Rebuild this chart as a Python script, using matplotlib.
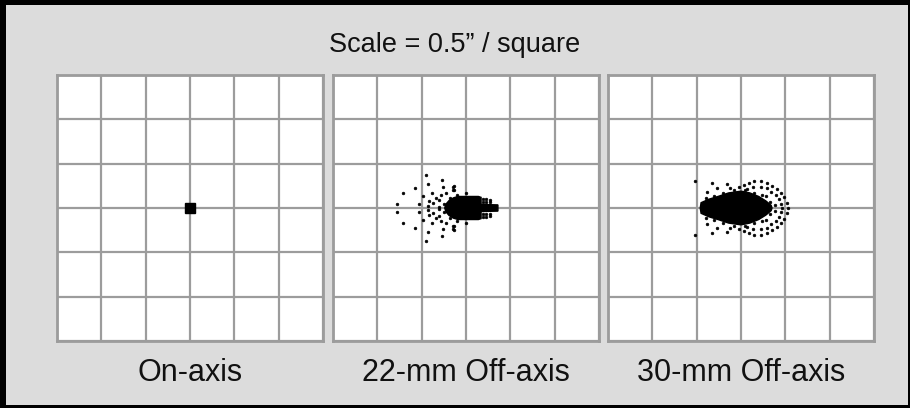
import matplotlib
matplotlib.use("Agg")
import matplotlib.pyplot as plt

plt.rcParams['font.family'] = ['Liberation Sans', 'DejaVu Sans']

# ---------------- data (arcsec offsets from panel centre) ----------------
title = "Scale = 0.5\u201d / square"
panel_labels = ["On-axis", "22-mm Off-axis", "30-mm Off-axis"]
scale_arcsec = 0.5          # one grid square
n_squares = 6

# On-axis: single tight spot
onaxis_x = [0.0]
onaxis_y = [0.0]

# 22-mm: dense core outline
core22_x = [-0.24, -0.225, -0.19, -0.14, -0.09, 0.05, 0.14, 0.17, 0.17, 0.36,
            0.36, 0.17, 0.17, 0.14, 0.05, -0.09, -0.14, -0.19, -0.225]
core22_y = [0.0, 0.045, 0.085, 0.115, 0.13, 0.13, 0.13, 0.12, 0.04, 0.035,
            -0.035, -0.04, -0.12, -0.13, -0.13, -0.13, -0.115, -0.085, -0.045]
# 22-mm: scattered rays
dots22_x = [-0.45, -0.27, -0.43, -0.26, -0.14, -0.71, -0.58, -0.48, -0.38, -0.28,
            -0.22, -0.14, 0.00, -0.78, -0.53, -0.43, -0.37, -0.31, -0.30, -0.18,
            -0.18, -0.10, -0.15, -0.15, -0.34, -0.42, -0.25,
            -0.45, -0.27, -0.43, -0.26, -0.14, -0.71, -0.58, -0.48, -0.38, -0.28,
            -0.22, -0.14, 0.00, -0.78, -0.53, -0.43, -0.37, -0.31, -0.30, -0.18,
            -0.18, -0.10, -0.15, -0.15, -0.34, -0.42, -0.25,
            0.19, 0.19, 0.23, 0.23, 0.27, 0.27,
            0.19, 0.19, 0.23, 0.23, 0.27, 0.27]
dots22_y = [0.37, 0.32, 0.27, 0.24, 0.25, 0.17, 0.22, 0.13, 0.17, 0.15,
            0.17, 0.20, 0.17, 0.05, 0.05, 0.02, 0.06, 0.09, 0.015, 0.11,
            0.07, 0.15, 0.24, 0.20, 0.11, 0.08, 0.05,
            -0.37, -0.32, -0.27, -0.24, -0.25, -0.17, -0.22, -0.13, -0.17, -0.15,
            -0.17, -0.20, -0.17, -0.05, -0.05, -0.02, -0.06, -0.09, -0.015, -0.11,
            -0.07, -0.15, -0.24, -0.20, -0.11, -0.08, -0.05,
            0.10, 0.07, 0.10, 0.07, 0.095, 0.07,
            -0.10, -0.07, -0.10, -0.07, -0.095, -0.07]

# 30-mm: dense core outline
core30_x = [-0.46, -0.45, -0.36, -0.26, -0.14, 0.00, 0.10, 0.20, 0.28, 0.34, 0.35,
            0.34, 0.28, 0.20, 0.10, 0.00, -0.14, -0.26, -0.36, -0.45]
core30_y = [0.0, 0.06, 0.10, 0.13, 0.17, 0.19, 0.17, 0.13, 0.08, 0.03, 0.0,
            -0.03, -0.08, -0.13, -0.17, -0.19, -0.17, -0.13, -0.10, -0.06]
# 30-mm: outer and inner ring of rays, rough core edge, scattered rays
dots30_x = [0.03, 0.09, 0.15, 0.22, 0.29, 0.35, 0.41, 0.45, 0.49, 0.52, 0.53,
            0.52, 0.49, 0.45, 0.41, 0.35, 0.29, 0.22, 0.15, 0.09, 0.03,
            0.07, 0.14, 0.22, 0.29, 0.34, 0.39, 0.43, 0.45, 0.46,
            0.45, 0.43, 0.39, 0.34, 0.29, 0.22, 0.14, 0.07,
            0.28, 0.33, 0.28, 0.33, 0.38, 0.38,
            -0.40, -0.30, -0.20, -0.08, 0.05, 0.15, 0.24,
            -0.40, -0.30, -0.20, -0.08, 0.05, 0.15, 0.24,
            -0.52, -0.33, -0.16, -0.38, -0.27, -0.12, -0.02,
            -0.52, -0.33, -0.16, -0.38, -0.27, -0.12, -0.02]
dots30_y = [0.26, 0.285, 0.30, 0.30, 0.28, 0.25, 0.21, 0.17, 0.12, 0.06, 0.0,
            -0.06, -0.12, -0.17, -0.21, -0.25, -0.28, -0.30, -0.30, -0.285, -0.26,
            0.21, 0.24, 0.24, 0.22, 0.18, 0.15, 0.10, 0.05, 0.0,
            -0.05, -0.10, -0.15, -0.18, -0.22, -0.24, -0.24, -0.21,
            0.13, 0.07, -0.13, -0.07, 0.03, -0.03,
            0.11, 0.14, 0.17, 0.20, 0.20, 0.17, 0.15,
            -0.11, -0.14, -0.17, -0.20, -0.20, -0.17, -0.15,
            0.30, 0.285, 0.27, 0.18, 0.22, 0.22, 0.24,
            -0.30, -0.285, -0.27, -0.18, -0.22, -0.22, -0.24]

# ---------------- figure ----------------
W, H = 910, 408
fig = plt.figure(figsize=(W / 100, H / 100), dpi=100, facecolor="black")

bg = fig.add_axes([6 / W, 3 / H, (908 - 6) / W, (403 - 3) / H])
bg.set_facecolor("#dcdcdc")
bg.set_xticks([]); bg.set_yticks([])
for s in bg.spines.values():
    s.set_visible(False)

grid_col = "#9c9c9c"
half = scale_arcsec * n_squares / 2
panel_left = [57, 333, 608]
panel_top, panel_size = 75, 266

axes = []
for i, lx in enumerate(panel_left):
    ax = fig.add_axes([lx / W, (H - panel_top - panel_size) / H, panel_size / W, panel_size / H])
    ax.set_facecolor("white")
    ax.set_xlim(-half, half)
    ax.set_ylim(-half, half)
    ticks = [-half + k * scale_arcsec for k in range(n_squares + 1)]
    ax.set_xticks(ticks)
    ax.set_yticks(ticks)
    ax.tick_params(length=0, labelbottom=False, labelleft=False)
    ax.grid(True, color=grid_col, linewidth=1.6)
    ax.set_axisbelow(True)
    for s in ax.spines.values():
        s.set_color(grid_col)
        s.set_linewidth(2.0)
    axes.append(ax)
    fig.text((lx + panel_size / 2) / W, 1 - 373 / H, panel_labels[i],
             ha="center", va="center", fontsize=22, color="#111111")

axes[0].plot(onaxis_x, onaxis_y, "s", color="black", markersize=7.0, zorder=3)

dot_style = dict(marker="o", linestyle="none", color="black", markersize=2.0,
                 markeredgewidth=0.4, markeredgecolor="black", zorder=3)

axes[1].fill(core22_x, core22_y, color="black", zorder=3, linewidth=1.0, edgecolor="black")
l1, = axes[1].plot(dots22_x, dots22_y, **dot_style)
l1.set_snap(False)

axes[2].fill(core30_x, core30_y, color="black", zorder=3, linewidth=1.0, edgecolor="black")
l2, = axes[2].plot(dots30_x, dots30_y, **dot_style)
l2.set_snap(False)

fig.text(0.5, 1 - 45 / H, title, ha="center", va="center", fontsize=19.5, color="#111111")

fig.savefig("out.png", dpi=100, facecolor=fig.get_facecolor())
